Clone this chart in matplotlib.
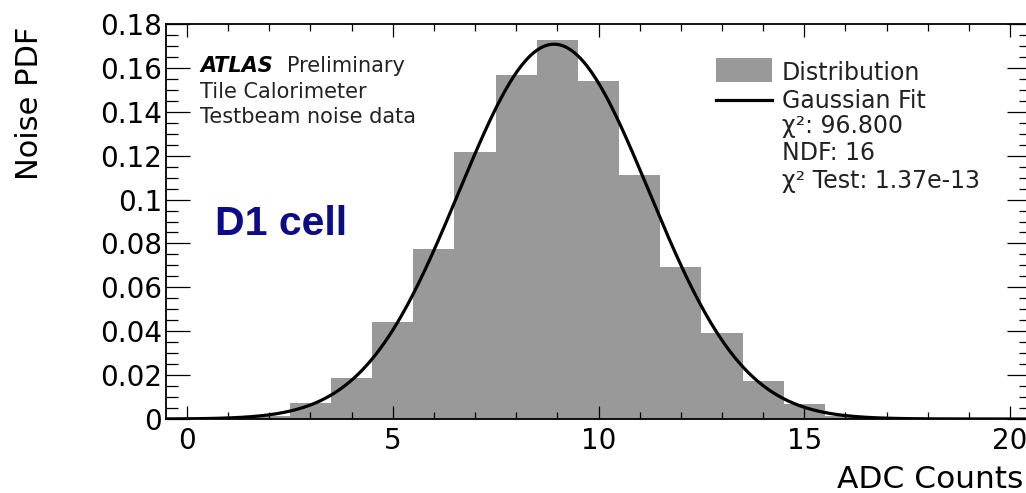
import matplotlib
matplotlib.use("Agg")
import matplotlib.pyplot as plt
import numpy as np
from matplotlib.patches import Rectangle
from matplotlib.lines import Line2D
from matplotlib.ticker import MultipleLocator, FuncFormatter

# histogram of noise (normalised), 1 ADC count bins centred on integers
bin_centers = [2, 3, 4, 5, 6, 7, 8, 9, 10, 11, 12, 13, 14, 15, 16]
bin_density = [0.0015, 0.0072, 0.0187, 0.0444, 0.0773, 0.1218, 0.1568, 0.1725,
               0.1542, 0.1112, 0.0694, 0.0392, 0.0175, 0.0067, 0.0015]

# gaussian fit parameters
fit_amp = 0.1708
fit_mean = 8.92
fit_sigma = 2.31

chi2 = 96.800
ndf = 16
chi2_prob = "1.37e-13"

GRAY = "#999999"

plt.rcParams['font.family'] = ['DejaVu Sans']

fig = plt.figure(figsize=(10.26, 4.93), dpi=100)
W, H = 1026.0, 493.0
# axes spans pixel x 166.4..1030.6, y 24..419 (right spine is off-image)
ax = fig.add_axes([166.4 / W, 74 / H, 864.2 / W, 395 / H])

ax.bar(bin_centers, bin_density, width=1.0, color=GRAY, linewidth=0, zorder=1)

xs = np.linspace(-0.5, 20.5, 600)
ax.plot(xs, fit_amp * np.exp(-0.5 * ((xs - fit_mean) / fit_sigma) ** 2),
        color="black", lw=2.3, zorder=3, solid_capstyle="butt")

ax.set_xlim(-0.5, 20.5)
ax.set_ylim(0, 0.18)

ax.xaxis.set_major_locator(MultipleLocator(5))
ax.xaxis.set_minor_locator(MultipleLocator(1))
ax.yaxis.set_major_locator(MultipleLocator(0.02))
ax.yaxis.set_minor_locator(MultipleLocator(0.005))
ax.yaxis.set_major_formatter(FuncFormatter(lambda v, p: "%g" % round(v, 3)))
ax.xaxis.set_major_formatter(FuncFormatter(lambda v, p: "%g" % v))

ax.tick_params(axis="both", which="both", direction="in", top=True, right=True,
               colors="black", width=0.9, labelsize=20)
ax.tick_params(axis="x", which="major", length=9.5, pad=6)
ax.tick_params(axis="x", which="minor", length=5)
ax.tick_params(axis="y", which="major", length=17, pad=3)
ax.tick_params(axis="y", which="minor", length=8.5)
for s in ax.spines.values():
    s.set_linewidth(1.3)

# axis titles, ROOT style (aligned to the ends)
fig.text(29.5 / W, 1 - 27 / H, "Noise PDF", rotation=90, ha="center", va="top",
         fontsize=22)
fig.text(1023 / W, 5 / H, "ADC Counts", ha="right", va="baseline", fontsize=22.5)

def ax_xy(px, py):
    return (px - 166.4) / 864.2, (419 - py) / 395.0

# ATLAS label
x0, y0 = ax_xy(200, 71.7)
ax.text(x0, y0, "ATLAS", transform=ax.transAxes, fontsize=15, fontweight="bold",
        fontstyle="italic", va="baseline", ha="left")
x1, _ = ax_xy(286.7, 0)
ax.text(x1, y0, "Preliminary", transform=ax.transAxes, fontsize=15,
        va="baseline", ha="left", color="#222222")
for py, txt in [(98.3, "Tile Calorimeter"), (123.3, "Testbeam noise data")]:
    ax.text(x0, ax_xy(0, py)[1], txt, transform=ax.transAxes, fontsize=15,
            va="baseline", ha="left", color="#222222")

# D1 cell
xd, yd = ax_xy(215, 235)
ax.text(xd, yd, "D1 cell", transform=ax.transAxes, fontsize=29.5,
        fontweight="bold", family=["Liberation Sans", "DejaVu Sans"],
        color="#0c0c88", va="baseline", ha="left")

# legend drawn by hand
lx0, ly0 = ax_xy(716, 82)
lx1, ly1 = ax_xy(772, 58)
ax.add_patch(Rectangle((lx0, ly0), lx1 - lx0, ly1 - ly0, transform=ax.transAxes,
                       facecolor=GRAY, edgecolor="none", zorder=4))
_, yl = ax_xy(0, 100)
ax.add_line(Line2D([lx0, lx1], [yl, yl], transform=ax.transAxes, color="black",
                   lw=2.3, zorder=4))
tx, _ = ax_xy(782, 0)
legend_rows = [(80, "Distribution"), (108.3, "Gaussian Fit"),
               (133.3, "χ²: %.3f" % chi2), (160, "NDF: %d" % ndf),
               (188.3, "χ² Test: %s" % chi2_prob)]
for py, txt in legend_rows:
    ax.text(tx, ax_xy(0, py)[1], txt, transform=ax.transAxes, fontsize=17,
            va="baseline", ha="left", color="#222222", zorder=5)

fig.savefig("out.png", dpi=100)
